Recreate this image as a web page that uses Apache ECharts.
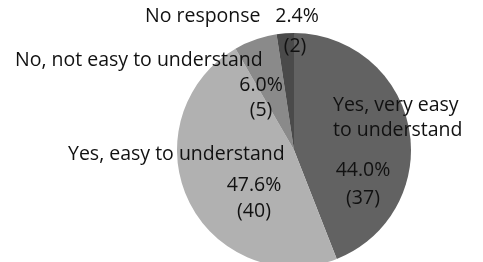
<!DOCTYPE html>
<html>
<head>
<meta charset="utf-8">
<script src="https://cdn.jsdelivr.net/npm/echarts@6/dist/echarts.min.js"></script>
<style>
  html,body{margin:0;padding:0;background:#fff;}
  #main{width:483px;height:262px;}
</style>
</head>
<body>
<div id="main"></div>
<script>
// data
var categories = ['Yes, very easy to understand', 'Yes, easy to understand', 'No, not easy to understand', 'No response'];
var counts = [37, 40, 5, 2];
var colors = ['#626262', '#b1b1b1', '#8a8a8a', '#4a4a4a'];

// label layout (name lines, percent, count) for each slice
var nameLines = [['Yes, very easy', 'to understand'], ['Yes, easy to understand'], ['No, not easy to understand'], ['No response']];
var namePos = [[[333, 105], [333, 130]], [[68, 154]], [[15, 60]], [[145, 16]]];
var pctPos = [[363, 170], [254, 185], [261, 85], [297, 16]];
var cntPos = [[363, 198], [254, 211], [261, 110], [295, 46]];

var FONT = 'Open Sans';
var FS = 19.5;

var total = counts.reduce(function(a, b){ return a + b; }, 0);

var chart = echarts.init(document.getElementById('main'));

function txt(s, x, y, align){
    return {
        type:'text', x:x, y:y, z:100,
        style:{text:s, fill:'#111', font:FS + 'px "' + FONT + '"', align:align, verticalAlign:'middle'}
    };
}

var gfx = [];
categories.forEach(function(name, i){
    nameLines[i].forEach(function(line, j){
        gfx.push(txt(line, namePos[i][j][0], namePos[i][j][1], 'left'));
    });
    var pct = (counts[i] / total * 100).toFixed(1) + '%';
    gfx.push(txt(pct, pctPos[i][0], pctPos[i][1], 'center'));
    gfx.push(txt('(' + counts[i] + ')', cntPos[i][0], cntPos[i][1], 'center'));
});

chart.setOption({
    animation:false,
    series:[{
        type:'pie',
        center:[294, 150],
        radius:117,
        startAngle:90,
        clockwise:true,
        z:1,
        label:{show:false},
        labelLine:{show:false},
        emphasis:{disabled:true},
        itemStyle:{borderWidth:0},
        data:categories.map(function(n, i){
            return {name:n, value:counts[i], itemStyle:{color:colors[i]}};
        })
    }],
    graphic:gfx
});
</script>
</body>
</html>
